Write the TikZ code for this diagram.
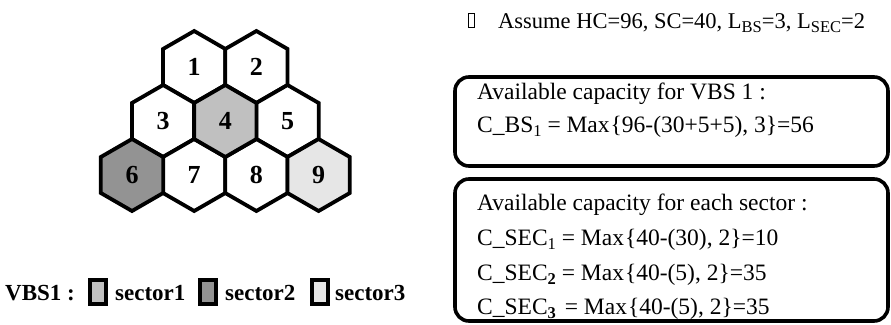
\documentclass[tikz,border=0pt]{standalone}
\usepackage{fontspec}
\setmainfont{Liberation Serif}
\usetikzlibrary{shapes.geometric}
\definecolor{secA}{HTML}{C0C0C0}
\definecolor{secB}{HTML}{939393}
\definecolor{secC}{HTML}{E6E6E6}
\newcommand{\mysub}[1]{\raisebox{-4.5pt}{\fontsize{16.5}{16.5}\selectfont #1}}
\tikzset{
  hexa/.style={regular polygon, regular polygon sides=6, shape border rotate=30,
    minimum size=72pt, inner sep=0pt, draw=black, line width=3.8pt, line join=miter,
    font=\fontsize{26}{26}\selectfont\bfseries},
  txt/.style={anchor=base west, inner sep=0pt, font=\fontsize{23.5}{28}\selectfont},
  asmtxt/.style={anchor=base west, inner sep=0pt, font=\fontsize{22.5}{28}\selectfont},
  legtxt/.style={anchor=base west, inner sep=0pt, font=\fontsize{23}{28}\selectfont\bfseries},
  legbox/.style={draw=black, line width=4pt},
  capbox/.style={draw=black, line width=3.6pt, rounded corners=14pt},
}
\begin{document}
\begin{tikzpicture}[x=1pt,y=-1pt]
\useasboundingbox (0,0) rectangle (891,324);
% hexagons
\node[hexa, fill=white] (h1) at (194.2,67) {1};
\node[hexa, fill=white] (h2) at (256.4,67) {2};
\node[hexa, fill=white] (h3) at (163.1,121) {3};
\node[hexa, fill=white] (h5) at (287.5,121) {5};
\node[hexa, fill=white] (h7) at (194.2,175) {7};
\node[hexa, fill=white] (h8) at (256.4,175) {8};
\node[hexa, fill=secA] (h4) at (225.3,121) {4};
\node[hexa, fill=secB] (h6) at (132,175) {6};
\node[hexa, fill=secC] (h9) at (318.6,175) {9};
% legend
\node[legtxt] (vbs) at (5,300) {VBS1 :};
\draw[legbox, fill=secA] (90,280) rectangle (106,304);
\node[legtxt] (s1) at (115,300) {sector1};
\draw[legbox, fill=secB] (200,280) rectangle (216,304);
\node[legtxt] (s2) at (225,300) {sector2};
\draw[legbox, fill=secC] (312,280) rectangle (328,304);
\node[legtxt] (s3) at (335,300) {sector3};
% assumption line
\draw[line width=0.8pt] (468.5,13.5) rectangle (474.5,27.5);
\node[asmtxt] (assume) at (498,28) {Assume HC=96, SC=40, L\mysub{BS}=3, L\mysub{SEC}=2};
% box 1
\draw[capbox] (455,77) rectangle (888,166);
\node[txt] (b1a) at (477,99) {Available capacity for VBS 1 :};
\node[txt] (b1b) at (477,132) {C\_BS\mysub{1} = Max\kern1pt\{96-(30+5+5), 3\}=56};
% box 2
\draw[capbox] (455,179) rectangle (888,321);
\node[txt] (b2a) at (477,210) {Available capacity for each sector :};
\node[txt] (b2b) at (477,245) {C\_SEC\mysub{1} = Max\kern1pt\{40-(30), 2\}=10};
\node[txt] (b2c) at (477,280) {C\_SEC\mysub{\textbf{2}} = Max\kern1pt\{40-(5), 2\}=35};
\node[txt] (b2d) at (477,314) {C\_SEC\mysub{\textbf{3}}\kern3pt{} = Max\kern1pt\{40-(5), 2\}=35};
\end{tikzpicture}
\end{document}
